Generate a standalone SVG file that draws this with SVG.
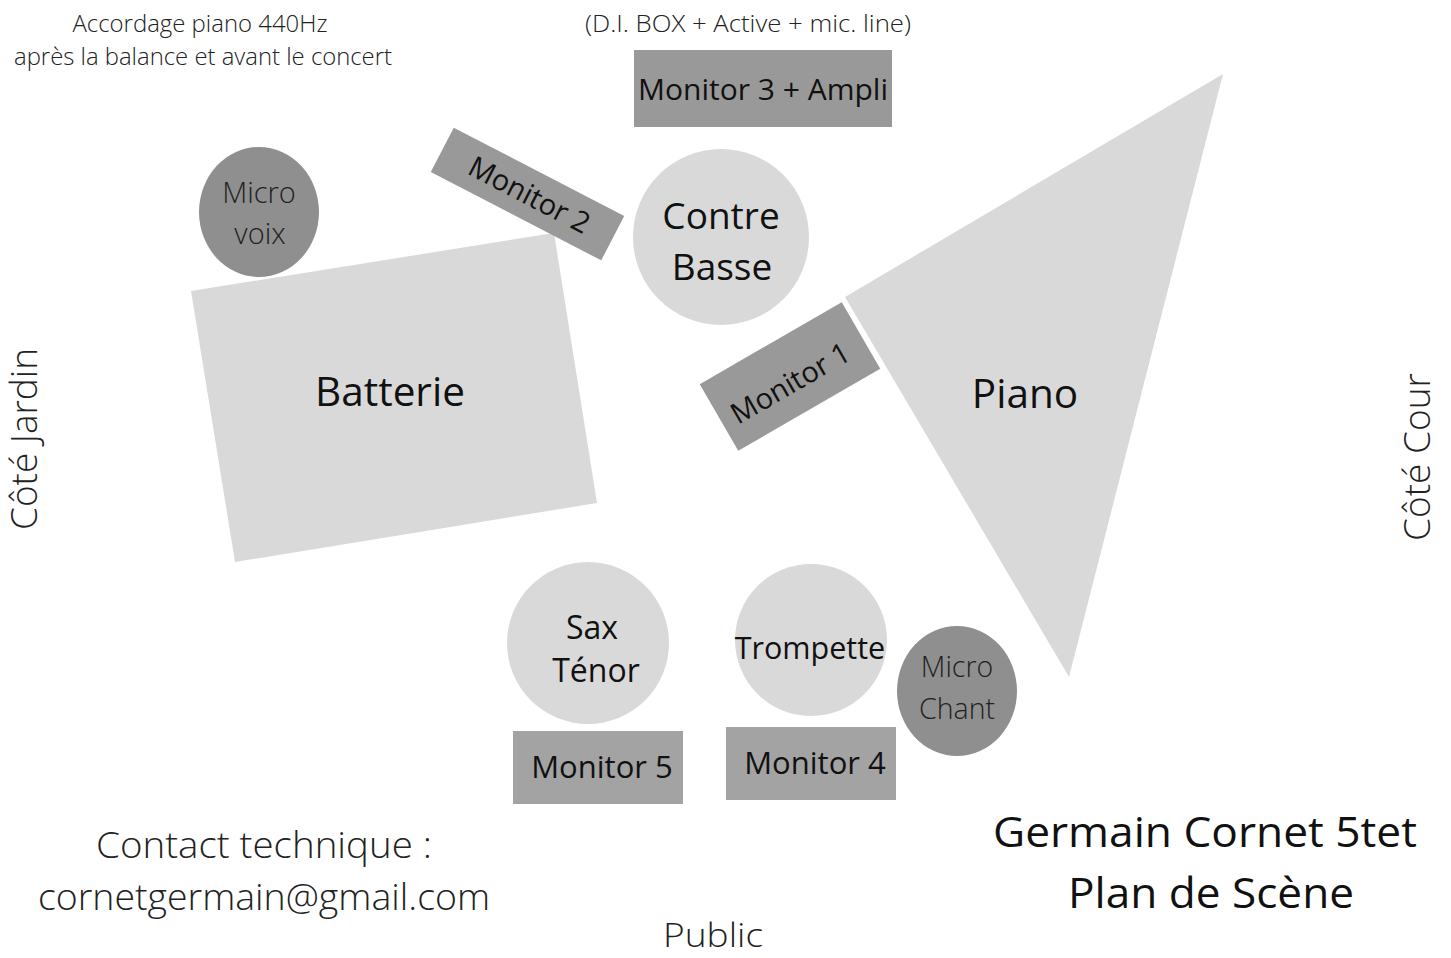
<svg xmlns="http://www.w3.org/2000/svg" width="1451" height="958" viewBox="0 0 1451 958">
<style>
.t{font-family:"Open Sans","Liberation Sans",sans-serif;text-anchor:middle;fill:#111}
.l{font-weight:300;fill:#222}
.light{fill:#d9d9d9}
.mon{fill:#999999}
.mon2{fill:#a3a3a3}
.mic{fill:#8f8f8f}
</style>
<rect width="1451" height="958" fill="#ffffff"/>
<g id="notes">
<text class="t l" x="200" y="32" font-size="23" textLength="255" lengthAdjust="spacingAndGlyphs">Accordage piano 440Hz</text>
<text class="t l" x="203" y="65" font-size="23" textLength="378" lengthAdjust="spacingAndGlyphs">après la balance et avant le concert</text>
<text class="t l" x="748" y="32" font-size="24" textLength="326" lengthAdjust="spacingAndGlyphs">(D.I. BOX + Active + mic. line)</text>
</g>
<g id="batterie">
<polygon class="light" points="191,291 554,233 597,503 235,562"/>
<text class="t" x="390" y="406" font-size="40.5">Batterie</text>
</g>
<g id="piano">
<polygon class="light" points="1223,74 845,297 1069,677"/>
<text class="t" x="1025" y="408" font-size="40.5">Piano</text>
</g>
<g id="monitor3">
<rect class="mon" x="634" y="50" width="258" height="77"/>
<text class="t" x="763" y="100" font-size="30">Monitor 3 + Ampli</text>
</g>
<g id="monitor2">
<g transform="translate(527.5,194) rotate(27.4)">
<rect class="mon" x="-96" y="-25" width="192" height="50"/>
<text class="t" x="2" y="10" font-size="29">Monitor 2</text>
</g>
</g>
<g id="monitor1">
<g transform="translate(790,376.5) rotate(-30)">
<rect class="mon" x="-82" y="-38.5" width="164" height="77"/>
<text class="t" x="-3" y="16" font-size="29">Monitor 1</text>
</g>
</g>
<g id="contrebasse">
<circle class="light" cx="721" cy="237" r="88"/>
<text class="t" x="721" y="229" font-size="37">Contre</text>
<text class="t" x="722" y="280" font-size="37">Basse</text>
</g>
<g id="microvoix">
<ellipse class="mic" cx="259" cy="212" rx="60" ry="65"/>
<text class="t l" x="259" y="203" font-size="29">Micro</text>
<text class="t l" x="260" y="244" font-size="29">voix</text>
</g>
<g id="sax">
<circle class="light" cx="588" cy="643" r="81"/>
<text class="t" x="592" y="639" font-size="32">Sax</text>
<text class="t" x="596" y="682" font-size="32">Ténor</text>
</g>
<g id="trompette">
<circle class="light" cx="811" cy="640" r="76"/>
<text class="t" x="810" y="659" font-size="30.5">Trompette</text>
</g>
<g id="microchant">
<ellipse class="mic" cx="957" cy="691" rx="60" ry="65"/>
<text class="t l" x="957" y="677" font-size="28.5">Micro</text>
<text class="t l" x="957" y="719" font-size="28.5">Chant</text>
</g>
<g id="monitor5">
<rect class="mon2" x="513" y="731" width="170" height="73"/>
<text class="t" x="602" y="778" font-size="31">Monitor 5</text>
</g>
<g id="monitor4">
<rect class="mon2" x="726" y="727" width="170" height="73"/>
<text class="t" x="815" y="774" font-size="31">Monitor 4</text>
</g>
<g id="labels">
<text class="t l" font-size="36" transform="translate(37,439) rotate(-90)" textLength="182" lengthAdjust="spacingAndGlyphs">Côté Jardin</text>
<text class="t l" font-size="36" transform="translate(1430,457) rotate(-90)" textLength="168" lengthAdjust="spacingAndGlyphs">Côté Cour</text>
<text class="t l" x="264" y="858" font-size="37" textLength="336" lengthAdjust="spacingAndGlyphs">Contact  technique :</text>
<text class="t l" x="264" y="910" font-size="37" textLength="452" lengthAdjust="spacingAndGlyphs">cornetgermain@gmail.com</text>
<text class="t l" x="713" y="947" font-size="33" textLength="100" lengthAdjust="spacingAndGlyphs">Public</text>
<text class="t" x="1205" y="847" font-size="42" textLength="424" lengthAdjust="spacingAndGlyphs">Germain Cornet 5tet</text>
<text class="t" x="1211" y="908" font-size="42" textLength="286" lengthAdjust="spacingAndGlyphs">Plan de Scène</text>
</g>
<g id="connectors"></g>
</svg>
